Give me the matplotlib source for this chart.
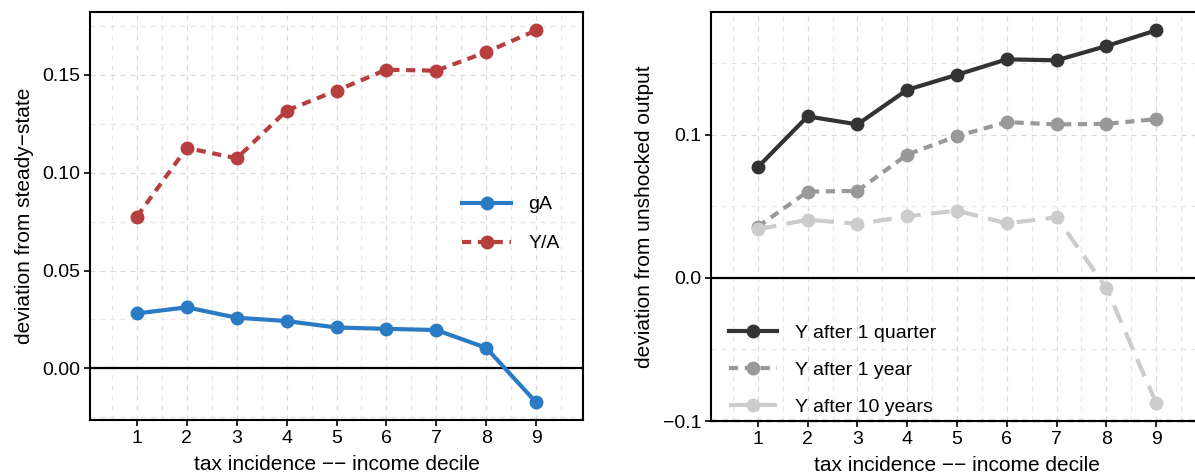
import matplotlib.pyplot as plt
from matplotlib.ticker import MultipleLocator

plt.rcParams['font.family'] = ['Liberation Sans', 'DejaVu Sans']

deciles = [1, 2, 3, 4, 5, 6, 7, 8, 9]

# left panel: deviation from steady-state
gA = [0.0281, 0.0312, 0.0259, 0.0242, 0.0209, 0.0202, 0.0196, 0.0105, -0.0174]
YA = [0.0776, 0.1127, 0.1074, 0.1318, 0.1420, 0.1527, 0.1522, 0.1617, 0.1728]

# right panel: deviation from unshocked output
Y_quarter = [0.0775, 0.1130, 0.1074, 0.1316, 0.1421, 0.1529, 0.1522, 0.1622, 0.1732]
Y_year = [0.0359, 0.0604, 0.0609, 0.0863, 0.0992, 0.1090, 0.1074, 0.1078, 0.1111]
Y_10years = [0.0340, 0.0408, 0.0378, 0.0431, 0.0471, 0.0382, 0.0424, -0.0070, -0.0875]

xlab = 'tax incidence \u2212\u2212 income decile'

fig = plt.figure(figsize=(11.95, 4.76), dpi=100)
ax1 = fig.add_axes([90 / 1195, 56 / 476, 493 / 1195, 408 / 476])
ax2 = fig.add_axes([711 / 1195, 55 / 476, 492 / 1195, 409 / 476])


def style_axes(ax):
    ax.set_xlim(0.06, 9.94)
    ax.set_xticks(deciles)
    ax.xaxis.set_minor_locator(MultipleLocator(0.5))
    ax.grid(which='major', color='#d8d8d8', linestyle=(0, (4, 4)), linewidth=0.9)
    ax.grid(which='minor', color='#e6e6e6', linestyle=(0, (4, 4)), linewidth=0.9)
    ax.set_axisbelow(True)
    for s in ax.spines.values():
        s.set_linewidth(1.5)
        s.set_color('black')
    ax.tick_params(which='major', direction='out', length=4, width=1.2,
                   labelsize=14, colors='black', pad=3)
    ax.tick_params(which='minor', length=0)
    ax.axhline(0, color='black', linewidth=1.6, zorder=1.5)
    ax.set_xlabel(xlab, fontsize=15, labelpad=6)


# ---- left panel
ax1.plot(deciles, gA, color='#2b7bc4', linewidth=3, marker='o', markersize=9,
         label='gA', zorder=3)
ax1.plot(deciles, YA, color='#b73e3e', linewidth=3, linestyle=(0, (2.2, 1.6)),
         marker='o', markersize=9, label='Y/A', zorder=3)
style_axes(ax1)
ax1.set_ylim(-0.0264, 0.1822)
ax1.set_yticks([0.0, 0.05, 0.10, 0.15])
ax1.set_yticklabels(['0.00', '0.05', '0.10', '0.15'])
ax1.yaxis.set_minor_locator(MultipleLocator(0.025))
ax1.set_ylabel('deviation from steady\u2212state', fontsize=15, labelpad=6)
ax1.legend(loc='center left', bbox_to_anchor=(0.72, 0.48), frameon=False,
           fontsize=14, handlelength=2.5, handletextpad=0.9, labelspacing=1.1)

# ---- right panel
ax2.plot(deciles, Y_quarter, color='#333333', linewidth=3, marker='o', markersize=9,
         label='Y after 1 quarter', zorder=3)
ax2.plot(deciles, Y_year, color='#999999', linewidth=3, linestyle=(0, (2.2, 1.6)),
         marker='o', markersize=9, label='Y after 1 year', zorder=3)
ax2.plot(deciles, Y_10years, color='#cccccc', linewidth=3, linestyle=(0, (4.5, 2.5)),
         marker='o', markersize=9, label='Y after 10 years', zorder=3)
style_axes(ax2)
ax2.set_ylim(-0.1, 0.186)
ax2.set_yticks([-0.1, 0.0, 0.1])
ax2.set_yticklabels(['\u22120.1', '0.0', '0.1'])
ax2.yaxis.set_minor_locator(MultipleLocator(0.05))
ax2.set_ylabel('deviation from unshocked output', fontsize=15, labelpad=6)
ax2.axhline(-0.1, color='black', linewidth=1.6, linestyle=(0, (3, 2)), zorder=4,
            clip_on=False)
ax2.legend(loc='lower left', bbox_to_anchor=(0.0, -0.03), frameon=False,
           fontsize=14, handlelength=2.5, handletextpad=0.9, labelspacing=1.0)

fig.savefig('out.png', dpi=100)
